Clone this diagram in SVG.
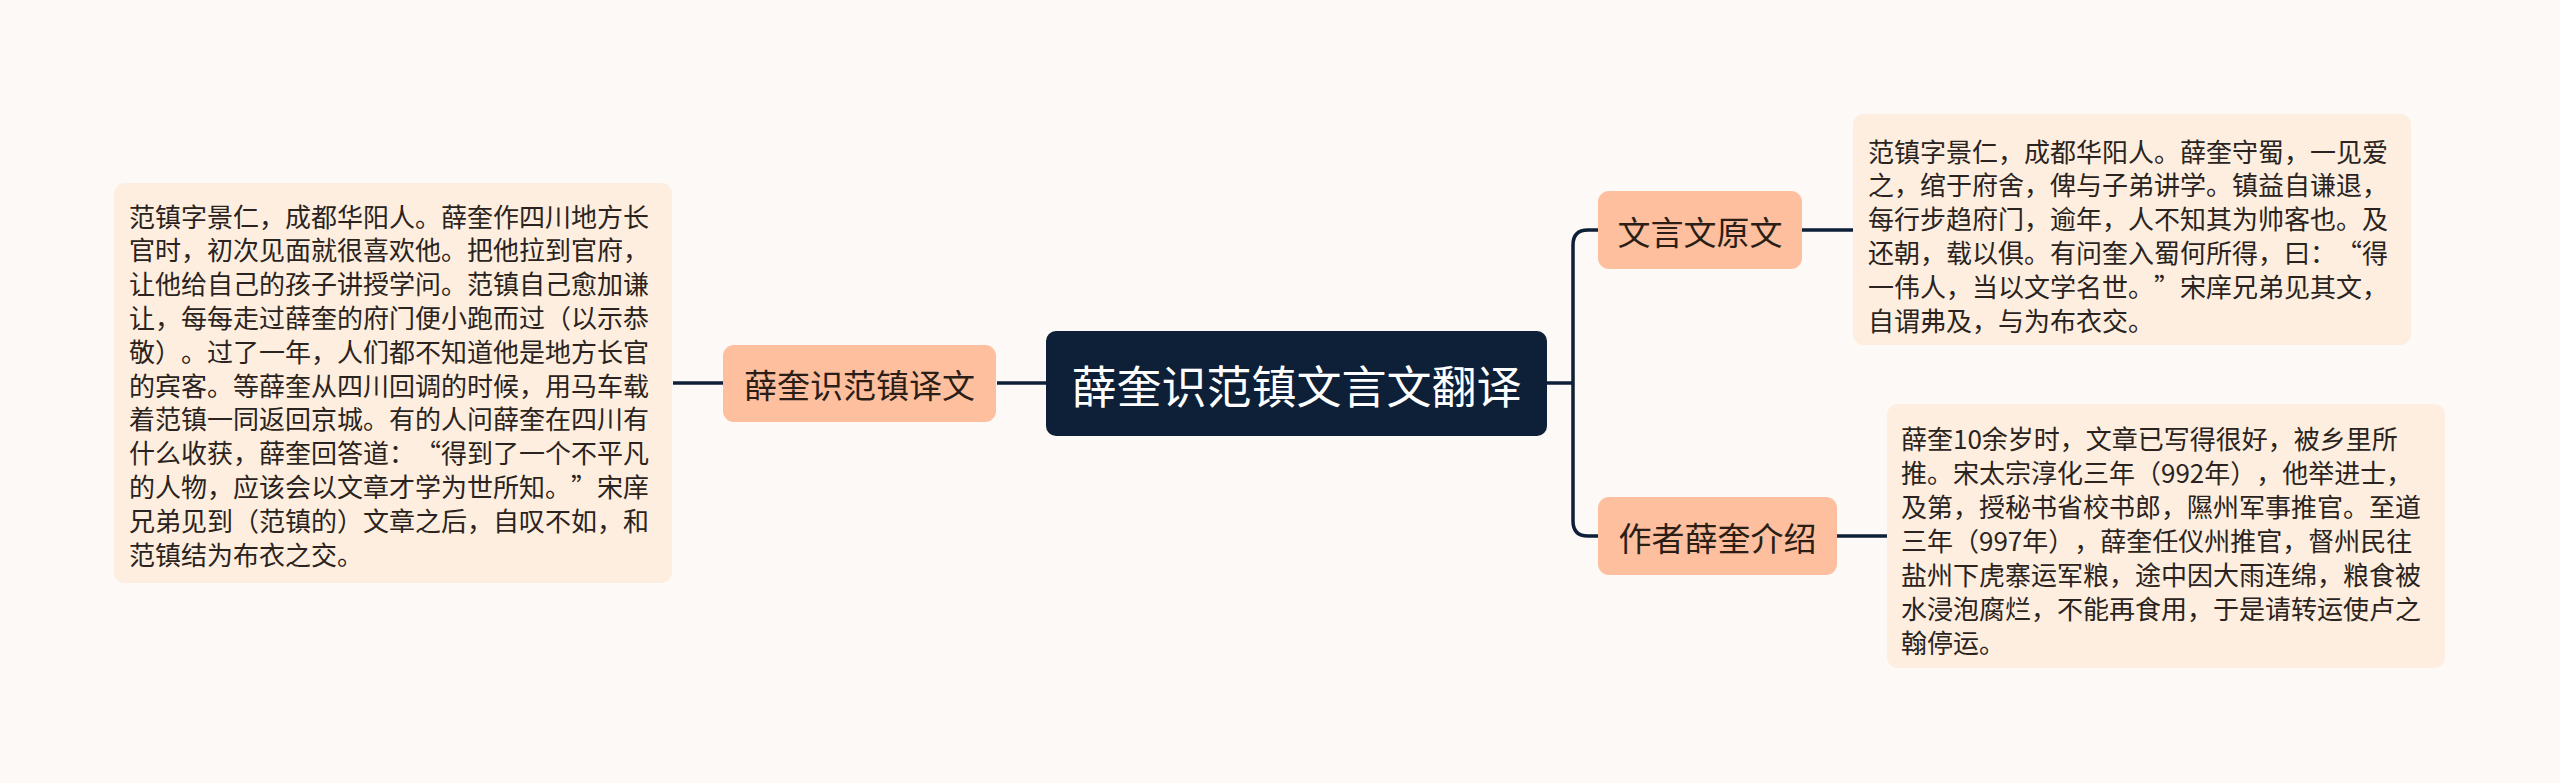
<svg xmlns="http://www.w3.org/2000/svg" width="2560" height="783" viewBox="0 0 2560 783">
<style>
.bg{fill:#FDF9F7}
.root rect{fill:#0E1F38}
.root text{fill:#FFFFFF;font-size:45px}
.child rect{fill:#FDBF9E}
.child text{fill:#2B1E17;font-size:33px}
.leaf rect{fill:#FDEEDF}
.leaf text{fill:#2A2320;font-size:26px}
text{font-family:"Noto Sans CJK SC","Noto Sans",sans-serif;dominant-baseline:central;text-spacing-trim:space-all;font-kerning:none}
.c text{text-anchor:middle}
.conn path{fill:none;stroke:#0E1F38;stroke-width:3.5;stroke-linecap:butt}
</style>
<rect class="bg" x="0" y="0" width="2560" height="783"/>
<g class="conn" id="connectors">
<path d="M1046,383 H997"/>
<path d="M723,383 H673"/>
<path d="M1547,383 H1573"/>
<path d="M1598,230 H1588 Q1573,230 1573,245 V521 Q1573,536 1588,536 H1598"/>
<path d="M1802,230 H1853"/>
<path d="M1837,536 H1887"/>
</g>
<g id="root" class="root c">
<rect x="1046" y="331" width="501" height="105" rx="10"/>
<text x="1296.5" y="384">薛奎识范镇文言文翻译</text>
</g>
<g id="left-child" class="child c">
<rect x="723" y="345" width="273" height="77" rx="11"/>
<text x="859.5" y="384">薛奎识范镇译文</text>
</g>
<g id="right-child-1" class="child c">
<rect x="1598" y="191" width="204" height="78" rx="11"/>
<text x="1700" y="231">文言文原文</text>
</g>
<g id="right-child-2" class="child c">
<rect x="1598" y="497" width="239" height="78" rx="11"/>
<text x="1717.5" y="537">作者薛奎介绍</text>
</g>
<g id="left-leaf" class="leaf">
<rect x="114" y="183" width="558" height="400" rx="11"/>
<text x="129" y="215">范镇字景仁，成都华阳人。薛奎作四川地方长</text>
<text x="129" y="248.8">官时，初次见面就很喜欢他。把他拉到官府，</text>
<text x="129" y="282.6">让他给自己的孩子讲授学问。范镇自己愈加谦</text>
<text x="129" y="316.4">让，每每走过薛奎的府门便小跑而过（以示恭</text>
<text x="129" y="350.2">敬）。过了一年，人们都不知道他是地方长官</text>
<text x="129" y="384">的宾客。等薛奎从四川回调的时候，用马车载</text>
<text x="129" y="417.8">着范镇一同返回京城。有的人问薛奎在四川有</text>
<text x="129" y="451.6">什么收获，薛奎回答道：“得到了一个不平凡</text>
<text x="129" y="485.4">的人物，应该会以文章才学为世所知。”宋庠</text>
<text x="129" y="519.2">兄弟见到（范镇的）文章之后，自叹不如，和</text>
<text x="129" y="553">范镇结为布衣之交。</text>
</g>
<g id="right-leaf-1" class="leaf">
<rect x="1853" y="114" width="558" height="231" rx="11"/>
<text x="1868" y="150">范镇字景仁，成都华阳人。薛奎守蜀，一见爱</text>
<text x="1868" y="183.8">之，绾于府舍，俾与子弟讲学。镇益自谦退，</text>
<text x="1868" y="217.6">每行步趋府门，逾年，人不知其为帅客也。及</text>
<text x="1868" y="251.4">还朝，载以俱。有问奎入蜀何所得，曰：“得</text>
<text x="1868" y="285.2">一伟人，当以文学名世。”宋庠兄弟见其文，</text>
<text x="1868" y="319">自谓弗及，与为布衣交。</text>
</g>
<g id="right-leaf-2" class="leaf">
<rect x="1887" y="404" width="558" height="264" rx="11"/>
<text x="1901" y="437">薛奎10余岁时，文章已写得很好，被乡里所</text>
<text x="1901" y="471">推。宋太宗淳化三年（992年），他举进士，</text>
<text x="1901" y="505">及第，授秘书省校书郎，隰州军事推官。至道</text>
<text x="1901" y="539">三年（997年），薛奎任仪州推官，督州民往</text>
<text x="1901" y="573">盐州下虎寨运军粮，途中因大雨连绵，粮食被</text>
<text x="1901" y="607">水浸泡腐烂，不能再食用，于是请转运使卢之</text>
<text x="1901" y="641">翰停运。</text>
</g>
</svg>
